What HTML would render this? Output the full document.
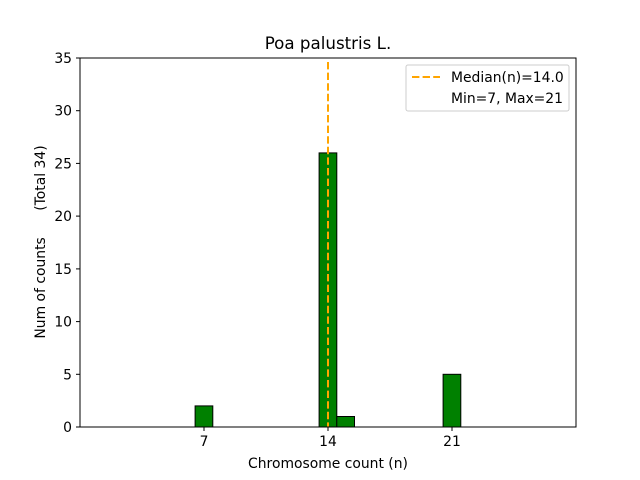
<!DOCTYPE html>
<html><head><meta charset="utf-8"><style>body{margin:0;background:#fff}svg{display:block}</style></head>
<body>
<svg width="640" height="480" xmlns="http://www.w3.org/2000/svg" font-family="'DejaVu Sans', sans-serif" font-size="13.9">
<rect width="640" height="480" fill="#fff"/>
<g fill="#008000" stroke="#000" stroke-width="1">
<rect x="195.1" y="405.9" width="17.7" height="21.1"/>
<rect x="319.1" y="152.9" width="17.7" height="274.1"/>
<rect x="336.8" y="416.5" width="17.7" height="10.5"/>
<rect x="443.1" y="374.3" width="17.7" height="52.7"/>
</g>
<line x1="159" y1="427" x2="514" y2="427" stroke="#000" stroke-width="1"/>
<line x1="328" y1="62" x2="328" y2="427" stroke="#ffa500" stroke-width="2" stroke-dasharray="7.4,3.2"/>
<rect x="80" y="58" width="496" height="369" fill="none" stroke="#000" stroke-width="1"/>
<g stroke="#000">
<line x1="204" y1="427" x2="204" y2="431"/><line x1="328" y1="427" x2="328" y2="431"/><line x1="452" y1="427" x2="452" y2="431"/>
<line x1="76" y1="427" x2="80" y2="427"/><line x1="76" y1="374.3" x2="80" y2="374.3"/><line x1="76" y1="321.6" x2="80" y2="321.6"/><line x1="76" y1="268.9" x2="80" y2="268.9"/><line x1="76" y1="216.1" x2="80" y2="216.1"/><line x1="76" y1="163.4" x2="80" y2="163.4"/><line x1="76" y1="110.7" x2="80" y2="110.7"/><line x1="76" y1="58" x2="80" y2="58"/>
</g>
<g text-anchor="middle" fill="#000">
<text x="204" y="446">7</text><text x="328" y="446">14</text><text x="452" y="446">21</text>
<text x="328" y="468">Chromosome count (n)</text>
<text x="328" y="49" font-size="16.7">Poa palustris L.</text>
</g>
<g text-anchor="end" fill="#000">
<text x="72" y="432">0</text><text x="72" y="379.3">5</text><text x="72" y="326.6">10</text><text x="72" y="273.9">15</text><text x="72" y="221.1">20</text><text x="72" y="168.4">25</text><text x="72" y="115.7">30</text><text x="72" y="63">35</text>
</g>
<text transform="translate(45,242) rotate(-90)" text-anchor="middle" xml:space="preserve">Num of counts      (Total 34)</text>
<rect x="406" y="65" width="163" height="46" rx="2" fill="#fff" stroke="#ccc" stroke-width="1"/>
<line x1="412" y1="77" x2="440" y2="77" stroke="#ffa500" stroke-width="2" stroke-dasharray="7.4,3.2"/>
<text x="451" y="82">Median(n)=14.0</text>
<text x="451" y="103">Min=7, Max=21</text>
</svg>
</body></html>
